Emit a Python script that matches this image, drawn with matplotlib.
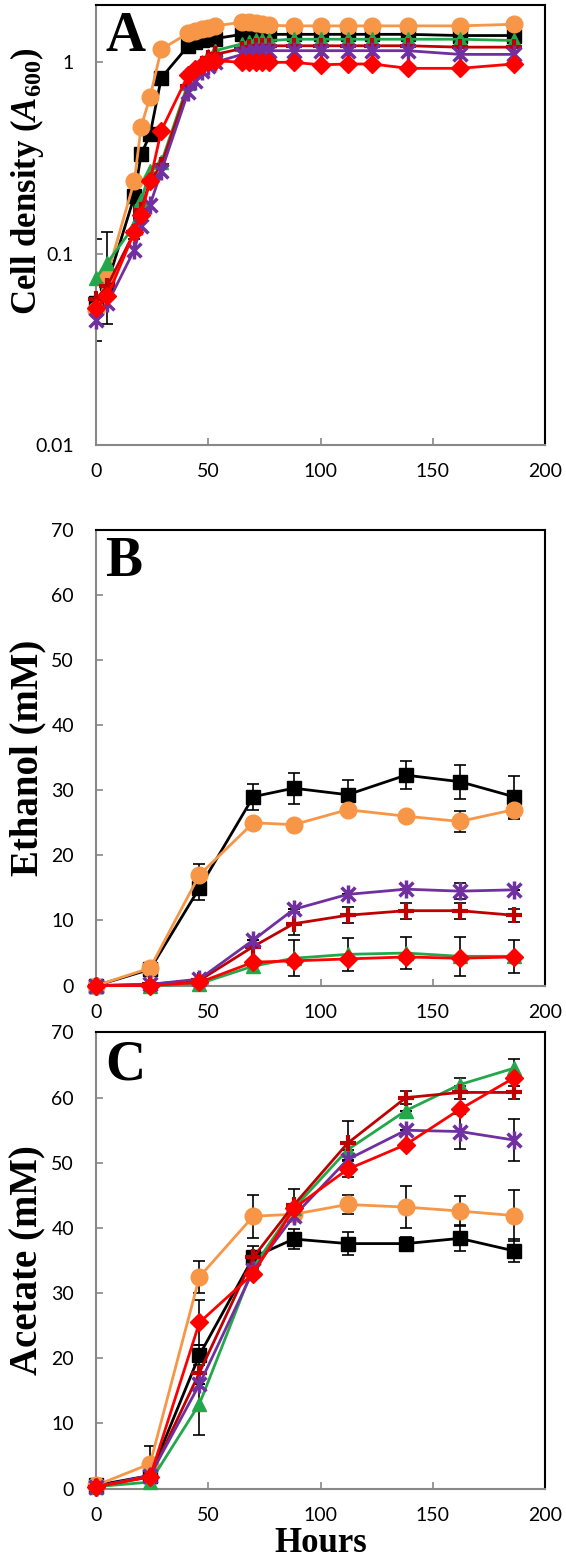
import matplotlib
matplotlib.use("Agg")
import matplotlib.pyplot as plt
from matplotlib.path import Path

# Tiempos de muestreo (horas)
horas_A = [0, 5, 17, 20, 24, 29, 41, 44, 47, 50, 53, 65, 68, 71, 74, 77, 88, 100, 112, 123, 139, 162, 186]
horas_BC = [0, 24, 46, 70, 88, 112, 138, 162, 186]

# Panel A: densidad celular (A600)
negro_A = [0.055, 0.07, 0.20, 0.33, 0.42, 0.83, 1.22, 1.28, 1.30, 1.32, 1.33, 1.40, 1.40, 1.40, 1.40, 1.40, 1.40, 1.40, 1.40, 1.40, 1.40, 1.38, 1.38]
naranja_A = [0.051, 0.078, 0.24, 0.46, 0.66, 1.17, 1.42, 1.46, 1.49, 1.52, 1.55, 1.62, 1.62, 1.60, 1.58, 1.56, 1.55, 1.55, 1.55, 1.55, 1.55, 1.55, 1.58]
verde_A = [0.075, 0.09, 0.14, 0.19, 0.27, 0.30, 0.78, 0.90, 1.00, 1.08, 1.15, 1.25, 1.28, 1.30, 1.30, 1.30, 1.32, 1.32, 1.32, 1.32, 1.32, 1.32, 1.30]
granate_A = [0.058, 0.068, 0.13, 0.17, 0.24, 0.29, 0.75, 0.88, 0.98, 1.05, 1.10, 1.18, 1.20, 1.22, 1.22, 1.22, 1.22, 1.22, 1.22, 1.22, 1.22, 1.20, 1.20]
morado_A = [0.045, 0.055, 0.105, 0.14, 0.18, 0.27, 0.70, 0.80, 0.90, 0.96, 1.00, 1.10, 1.12, 1.14, 1.15, 1.15, 1.15, 1.15, 1.15, 1.15, 1.15, 1.10, 1.10]
rojo_A = [0.052, 0.06, 0.13, 0.16, 0.24, 0.44, 0.86, 0.92, 0.97, 1.00, 1.02, 1.00, 1.00, 1.00, 1.00, 1.00, 1.00, 0.97, 0.98, 0.98, 0.93, 0.93, 0.98]
# barras de error (solo primeros puntos, serie negra)
err_A_inf = [0.02, 0.027, 0.08]
err_A_sup = [0.065, 0.06, 0.0]

# Panel B: etanol (mM)
negro_B = [0, 2.5, 15, 29, 30.3, 29.3, 32.3, 31.3, 29]
naranja_B = [0, 2.7, 17, 25, 24.7, 27, 26, 25.2, 27]
verde_B = [0, 0, 0.3, 3, 4.2, 4.8, 5, 4.5, 4.5]
granate_B = [0, 0.2, 0.8, 6, 9.5, 10.8, 11.5, 11.5, 10.8]
morado_B = [0, 0.2, 1, 7, 11.7, 14, 14.8, 14.5, 14.7]
rojo_B = [0, 0, 0.5, 3.6, 3.8, 4.1, 4.4, 4.2, 4.4]
err_negro_B = [0, 0, 1.8, 2, 2.4, 2.2, 2.2, 2.6, 3.2]
err_naranja_B = [0, 0, 1.7, 0, 0, 0, 0, 1.6, 1.5]
err_verde_B = [0, 0, 0, 0, 2.8, 2.5, 2.5, 3.0, 2.5]
err_granate_B = [0, 0, 0, 0, 1.8, 1.2, 1.2, 1.2, 1.0]
err_morado_B = [0, 0, 0, 0, 0, 0, 0, 1.2, 0]
err_rojo_B = [0, 0, 0, 0, 0, 0, 0, 0, 0]

# Panel C: acetato (mM)
negro_C = [0.5, 2.0, 20.5, 35.5, 38.3, 37.6, 37.6, 38.4, 36.5]
naranja_C = [0.5, 3.8, 32.5, 41.8, 42.1, 43.6, 43.2, 42.6, 41.9]
verde_C = [0.3, 1.0, 13, 34, 43, 52, 58, 62, 64.5]
granate_C = [0.3, 1.8, 17.8, 35.5, 43.5, 53, 60, 60.8, 60.8]
morado_C = [0.3, 2.0, 16, 33.5, 41.8, 50.5, 55, 54.8, 53.5]
rojo_C = [0.3, 1.8, 25.5, 33, 43, 49, 52.8, 58.2, 63]
err_negro_C = [0, 0, 1.5, 1.8, 1.5, 1.8, 1.0, 2.0, 1.8]
err_naranja_C = [0, 2.8, 2.5, 3.3, 0, 1.5, 3.2, 2.3, 3.9]
err_verde_C = [0, 0, 4.8, 0, 0, 0, 0, 1.0, 1.5]
err_granate_C = [0, 0, 0, 0, 2.5, 3.4, 1.0, 1.0, 1.0]
err_morado_C = [0, 0, 0, 0, 0, 0, 0, 2.7, 3.2]
err_rojo_C = [0, 0, 3.5, 0, 0, 1.2, 0, 0, 0]

# Marcador tipo "estrella" de Excel: una X con una barra vertical
estrella = Path([(-1, -1), (1, 1), (-1, 1), (1, -1), (0, -1.3), (0, 1.3)],
                [Path.MOVETO, Path.LINETO, Path.MOVETO, Path.LINETO, Path.MOVETO, Path.LINETO])

colores = {"negro": "#000000", "naranja": "#F79646", "verde": "#22A84A",
           "granate": "#C00000", "morado": "#7030A0", "rojo": "#FF0000"}
estilos = {
    "negro": dict(marker="s", ms=10),
    "naranja": dict(marker="o", ms=12),
    "verde": dict(marker="^", ms=10),
    "granate": dict(marker="+", ms=12, mew=3),
    "morado": dict(marker=estrella, ms=13, mew=2.5),
    "rojo": dict(marker="D", ms=9),
}
orden = ["negro", "naranja", "verde", "granate", "morado", "rojo"]

fuente_ticks = "Lato"
fuente_label = "Liberation Serif"
plt.rcParams["mathtext.fontset"] = "custom"
plt.rcParams["mathtext.it"] = "Liberation Serif:italic:bold"
plt.rcParams["mathtext.rm"] = "Liberation Serif:bold"

fig = plt.figure(figsize=(5.66, 15.62), dpi=100)
axA = fig.add_axes([0.170, 0.715, 0.793, 0.282])
axB = fig.add_axes([0.170, 0.369, 0.793, 0.292])
axC = fig.add_axes([0.170, 0.047, 0.793, 0.292])


def dibujar(ax, x, series, errores=None):
    for nombre in orden:
        y = series[nombre]
        if errores is not None and errores.get(nombre) is not None:
            ax.errorbar(x, y, yerr=errores[nombre], fmt="none", ecolor="black",
                        elinewidth=1.2, capsize=4, capthick=1.2, zorder=2)
        st = estilos[nombre]
        ax.plot(x, y, color=colores[nombre], lw=2, marker=st["marker"], ms=st["ms"],
                mew=st.get("mew", 1), mec=colores[nombre], mfc=colores[nombre],
                zorder=3, clip_on=False)


def formato(ax, etiqueta, letra, tam_etiqueta=28, y_etiqueta=0.5):
    for lado in ["left", "bottom"]:
        ax.spines[lado].set_color("#888888")
        ax.spines[lado].set_linewidth(1.5)
    for lado in ["top", "right"]:
        ax.spines[lado].set_color("black")
        ax.spines[lado].set_linewidth(1.5)
    ax.tick_params(direction="in", color="#888888", length=5, width=1.2, labelsize=14)
    ax.tick_params(axis="y", pad=16)
    ax.tick_params(axis="x", pad=13)
    ax.tick_params(which="minor", length=0)
    ax.set_xlim(0, 200)
    ax.set_xticks([0, 50, 100, 150, 200])
    for t in ax.get_xticklabels() + ax.get_yticklabels():
        t.set_fontfamily(fuente_ticks)
    ax.set_ylabel(etiqueta, fontfamily=fuente_label, fontweight="bold", fontsize=tam_etiqueta)
    ax.yaxis.set_label_coords(-0.112, y_etiqueta)
    ax.text(0.02, 0.985, letra, transform=ax.transAxes, ha="left", va="top",
            fontfamily=fuente_label, fontweight="bold", fontsize=40)


# Panel A
dibujar(axA, horas_A, {"negro": negro_A, "naranja": naranja_A, "verde": verde_A,
                       "granate": granate_A, "morado": morado_A, "rojo": rojo_A})
axA.errorbar(horas_A[:3], negro_A[:3], yerr=[err_A_inf, err_A_sup], fmt="none",
             ecolor="black", elinewidth=1.2, capsize=4, capthick=1.2, zorder=2)
axA.set_yscale("log")
axA.set_ylim(0.01, 2)
axA.set_yticks([0.01, 0.1, 1])
axA.set_yticklabels(["0.01", "0.1", "1"])
formato(axA, r"Cell density ($\mathit{A}_{\mathit{600}}$)", "A", tam_etiqueta=25, y_etiqueta=0.6)

# Panel B
dibujar(axB, horas_BC, {"negro": negro_B, "naranja": naranja_B, "verde": verde_B,
                        "granate": granate_B, "morado": morado_B, "rojo": rojo_B},
        {"negro": err_negro_B, "naranja": err_naranja_B, "verde": err_verde_B,
         "granate": err_granate_B, "morado": err_morado_B, "rojo": err_rojo_B})
axB.set_ylim(0, 70)
axB.set_yticks(range(0, 71, 10))
formato(axB, "Ethanol (mM)", "B")

# Panel C
dibujar(axC, horas_BC, {"negro": negro_C, "naranja": naranja_C, "verde": verde_C,
                        "granate": granate_C, "morado": morado_C, "rojo": rojo_C},
        {"negro": err_negro_C, "naranja": err_naranja_C, "verde": err_verde_C,
         "granate": err_granate_C, "morado": err_morado_C, "rojo": err_rojo_C})
axC.set_ylim(0, 70)
axC.set_yticks(range(0, 71, 10))
formato(axC, "Acetate (mM)", "C")
axC.set_xlabel("Hours", fontfamily=fuente_label, fontweight="bold", fontsize=25)
axC.xaxis.set_label_coords(0.5, -0.085)

fig.savefig("out.png", dpi=100)
